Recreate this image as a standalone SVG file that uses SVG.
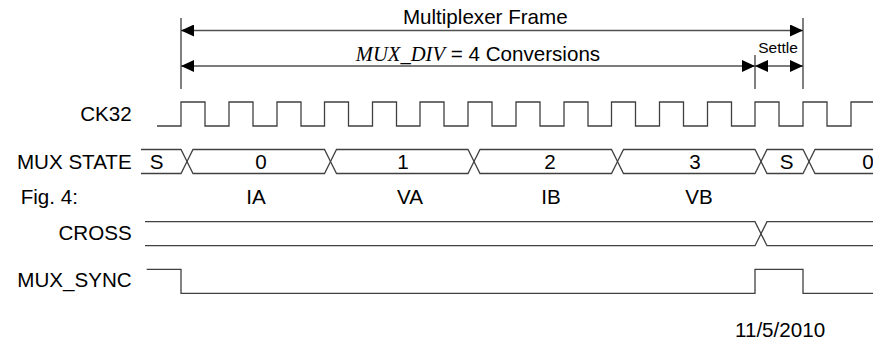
<svg xmlns="http://www.w3.org/2000/svg" width="873" height="341" viewBox="0 0 873 341">
<style>
text{font-family:"Liberation Sans",Arial,sans-serif;font-size:20.6px;fill:#000}
.lbl{text-anchor:end}
.mid{text-anchor:middle}
.sig{fill:none;stroke:#404040;stroke-width:1.3}
.dim{fill:none;stroke:#808080;stroke-width:2}
.arr{fill:none;stroke:#505050;stroke-width:1.3;marker-start:url(#ah);marker-end:url(#ah)}
</style>
<defs>
<marker id="ah" viewBox="0 0 13 12" refX="13" refY="6" markerWidth="13" markerHeight="12" markerUnits="userSpaceOnUse" orient="auto-start-reverse">
<path d="M0,0 L13,6 L0,12 z" fill="#000"/>
</marker>
</defs>
<rect width="873" height="341" fill="#fff"/>
<g id="labels">
<text class="lbl" x="131.7" y="120.7">CK32</text>
<text class="lbl" x="131.7" y="169">MUX STATE</text>
<text x="20.7" y="204">Fig. 4:</text>
<text class="lbl" x="131.7" y="240">CROSS</text>
<text class="lbl" x="131.7" y="287">MUX_SYNC</text>
<text class="mid" x="256" y="204">IA</text>
<text class="mid" x="410" y="204">VA</text>
<text class="mid" x="551" y="204">IB</text>
<text class="mid" x="699" y="204">VB</text>
<text x="735" y="336.5">11/5/2010</text>
</g>
<g id="connectors">
<line class="dim" x1="181" y1="18" x2="181" y2="89"/>
<line class="dim" x1="803" y1="18" x2="803" y2="89"/>
<line class="dim" x1="755" y1="55" x2="755" y2="89"/>
<line class="arr" x1="181" y1="30.5" x2="803" y2="30.5"/>
<line class="arr" x1="181" y1="66" x2="755" y2="66"/>
<line class="arr" x1="755" y1="66" x2="803" y2="66"/>
</g>
<g id="dimension-labels">
<text class="mid" x="485.3" y="24">Multiplexer Frame</text>
<text class="mid" x="478" y="61"><tspan style="font-family:'Liberation Serif','Times New Roman',serif;font-style:italic">MUX_DIV</tspan> = 4 Conversions</text>
<text class="mid" x="778" y="53.3" style="font-size:15.5px">Settle</text>
</g>
<g id="ck32">
<path class="sig" d="M157,126 H181 V102 H205 V126 H229 V102 H253 V126 H277 V102 H301 V126 H324.5 V102 H348.5 V126 H372.5 V102 H396.5 V126 H420 V102 H444 V126 H468 V102 H492 V126 H516 V102 H540 V126 H564 V102 H588 V126 H611.5 V102 H635.5 V126 H659.5 V102 H683.5 V126 H707.5 V102 H731.5 V126 H755 V102 H779 V126 H803 V102 H827 V126 H851 V102 H873"/>
</g>
<g id="mux-state">
<path class="sig" d="M141,149.5 H181 L187,161.5 L181,173.5 H141"/>
<path class="sig" d="M187,161.5 L193,149.5 H324.5 L330.5,161.5 L324.5,173.5 H193 Z"/>
<path class="sig" d="M330.5,161.5 L336.5,149.5 H468 L474,161.5 L468,173.5 H336.5 Z"/>
<path class="sig" d="M474,161.5 L480,149.5 H611.5 L617.5,161.5 L611.5,173.5 H480 Z"/>
<path class="sig" d="M617.5,161.5 L623.5,149.5 H755 L761,161.5 L755,173.5 H623.5 Z"/>
<path class="sig" d="M761,161.5 L767,149.5 H803 L809,161.5 L803,173.5 H767 Z"/>
<path class="sig" d="M873,149.5 H815 L809,161.5 L815,173.5 H873"/>
<text class="mid" x="156.7" y="169">S</text>
<text class="mid" x="261" y="169">0</text>
<text class="mid" x="403" y="169">1</text>
<text class="mid" x="550" y="169">2</text>
<text class="mid" x="695" y="169">3</text>
<text class="mid" x="786.7" y="169">S</text>
<text class="mid" x="868" y="169">0</text>
</g>
<g id="cross">
<path class="sig" d="M145,221.7 H755 L761,233.7 L755,245.7 H145"/>
<path class="sig" d="M873,221.7 H767 L761,233.7 L767,245.7 H873"/>
</g>
<g id="mux-sync">
<path class="sig" d="M146.7,269.3 H181 V293.3 H755 V269.3 H803 V293.3 H873"/>
</g>
</svg>
